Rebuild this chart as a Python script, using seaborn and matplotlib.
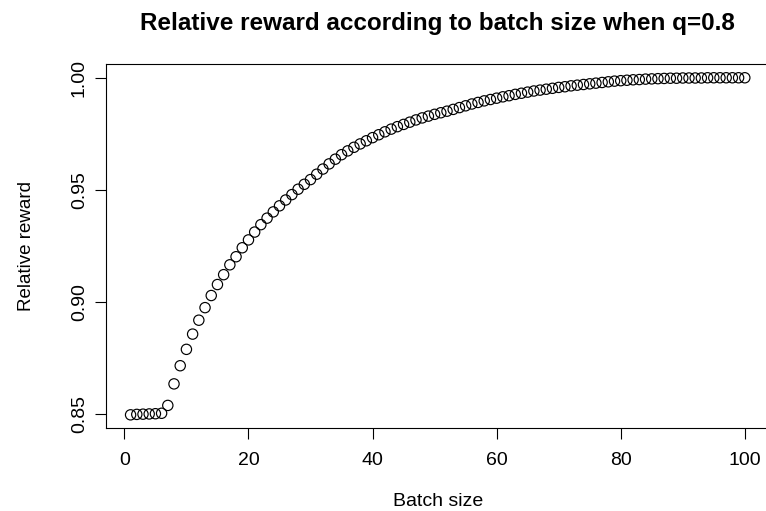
import matplotlib
matplotlib.use("Agg")
import matplotlib.pyplot as plt
import seaborn as sns
import pandas as pd

# Relative reward for each batch size (q = 0.8)
batch_size = list(range(1, 101))
relative_reward = [
    0.8497, 0.8499, 0.8500, 0.8501, 0.8502, 0.8504, 0.8539, 0.8635, 0.8716, 0.8789,
    0.8857, 0.8919, 0.8975, 0.9029, 0.9078, 0.9122, 0.9166, 0.9202, 0.9242, 0.9277,
    0.9312, 0.9345, 0.9374, 0.9402, 0.9429, 0.9455, 0.9479, 0.9503, 0.9525, 0.9546,
    0.9570, 0.9593, 0.9616, 0.9637, 0.9657, 0.9674, 0.9690, 0.9705, 0.9719, 0.9733,
    0.9746, 0.9759, 0.9771, 0.9782, 0.9792, 0.9802, 0.9812, 0.9821, 0.9829, 0.9837,
    0.9844, 0.9851, 0.9859, 0.9867, 0.9875, 0.9883, 0.9890, 0.9897, 0.9903, 0.9909,
    0.9915, 0.9920, 0.9926, 0.9931, 0.9936, 0.9941, 0.9945, 0.9949, 0.9953, 0.9957,
    0.9960, 0.9964, 0.9967, 0.9970, 0.9973, 0.9976, 0.9979, 0.9982, 0.9985, 0.9987,
    0.9989, 0.9991, 0.9992, 0.9994, 0.9995, 0.9996, 0.9997, 0.9998, 0.9998, 0.9999,
    0.9999, 0.9999, 0.9999, 1.0000, 1.0000, 1.0000, 1.0000, 1.0000, 1.0000, 1.0000,
]
x_ticks = [0, 20, 40, 60, 80, 100]
y_ticks = [0.85, 0.90, 0.95, 1.00]
y_tick_labels = ["0.85", "0.90", "0.95", "1.00"]

df = pd.DataFrame({"Batch size": batch_size, "Relative reward": relative_reward})

sns.set_theme(style="white")
plt.rcParams["font.family"] = ["Liberation Sans", "DejaVu Sans"]

fig = plt.figure(figsize=(7.66, 5.11), dpi=100)
ax = fig.add_axes([0.1384, 0.1618, 0.866, 0.7124])

sns.scatterplot(data=df, x="Batch size", y="Relative reward", ax=ax,
                marker="o", s=55, facecolor="none", edgecolor="black",
                linewidth=0.85, legend=False)

# base-R style 4% padding around the data range
xr = max(batch_size) - min(batch_size)
yr = max(relative_reward) - min(relative_reward)
ax.set_xlim(min(batch_size) - 0.04 * xr, max(batch_size) + 0.04 * xr)
ax.set_ylim(min(relative_reward) - 0.04 * yr, max(relative_reward) + 0.04 * yr)

ax.set_xticks(x_ticks)
ax.set_xticklabels([str(t) for t in x_ticks])
ax.set_yticks(y_ticks)
ax.set_yticklabels(y_tick_labels, rotation=90, va="center")

ax.tick_params(axis="both", direction="out", length=8, width=0.8,
               color="black", labelsize=14, labelcolor="black",
               bottom=True, left=True)
ax.tick_params(axis="x", pad=9)
ax.tick_params(axis="y", pad=5)

for sp in ax.spines.values():
    sp.set_color("black")
    sp.set_linewidth(0.8)

ax.set_xlabel("Batch size", fontsize=14, labelpad=17, color="black")
ax.set_ylabel("Relative reward", fontsize=13.5, labelpad=26, color="black")
ax.set_title("Relative reward according to batch size when q=0.8",
             fontsize=17.5, fontweight="bold", pad=25, color="black")

fig.savefig("out.png", dpi=100, facecolor="white")
